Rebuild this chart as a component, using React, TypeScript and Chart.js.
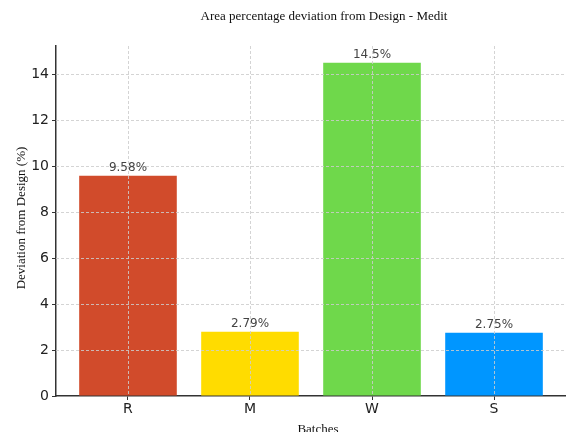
import React, { useEffect, useRef } from "react";
import { Chart, registerables } from "chart.js";

Chart.register(...registerables);

const batches = ["R", "M", "W", "S"];
const deviations = [9.58, 2.79, 14.5, 2.75];
const barColors = ["#D14B2B", "#FFDC00", "#6FD84B", "#0096FF"];
const yTicks = [0, 2, 4, 6, 8, 10, 12, 14];

const chartTitle = "Area percentage deviation from Design - Medit";
const xTitle = "Batches";
const yTitle = "Deviation from Design (%)";

// dashed grid drawn over the bars, plus value labels and axis titles
const overlayPlugin = {
  id: "overlay",
  afterDatasetsDraw(chart: any) {
    const { ctx, chartArea, scales } = chart;
    const xs = scales.x;
    const ys = scales.y;
    ctx.save();
    ctx.strokeStyle = "rgba(205,205,205,0.85)";
    ctx.lineWidth = 1;
    ctx.setLineDash([3, 2]);
    yTicks.forEach((v) => {
      if (v === 0) return;
      const y = Math.round(ys.getPixelForValue(v)) + 0.5;
      ctx.beginPath();
      ctx.moveTo(chartArea.left, y);
      ctx.lineTo(chartArea.right, y);
      ctx.stroke();
    });
    batches.forEach((_, i) => {
      const x = Math.round(xs.getPixelForValue(i)) + 0.5;
      ctx.beginPath();
      ctx.moveTo(x, chartArea.top);
      ctx.lineTo(x, chartArea.bottom);
      ctx.stroke();
    });
    ctx.setLineDash([]);

    // value labels above each bar
    const meta = chart.getDatasetMeta(0);
    ctx.fillStyle = "#444";
    ctx.font = '12px "DejaVu Sans"';
    ctx.textAlign = "center";
    ctx.textBaseline = "bottom";
    meta.data.forEach((bar: any, i: number) => {
      ctx.fillText(deviations[i] + "%", bar.x, bar.y - 2);
    });
    ctx.restore();
  },
  afterDraw(chart: any) {
    const { ctx } = chart;
    ctx.save();
    ctx.fillStyle = "#111";
    ctx.font = '13px "Liberation Serif"';
    ctx.textAlign = "center";
    ctx.textBaseline = "middle";
    ctx.fillText(chartTitle, 324, 17);
    ctx.fillText(xTitle, 318, 430);
    ctx.translate(22, 218);
    ctx.rotate(-Math.PI / 2);
    ctx.fillText(yTitle, 0, 0);
    ctx.restore();
  },
};

export default function App() {
  const canvasRef = useRef<HTMLCanvasElement | null>(null);

  useEffect(() => {
    if (!canvasRef.current) return;
    const chart = new Chart(canvasRef.current, {
      type: "bar",
      data: {
        datasets: [
          {
            data: deviations.map((v, i) => ({ x: i, y: v })),
            backgroundColor: barColors,
            borderWidth: 0,
            barPercentage: 0.8,
            categoryPercentage: 1,
          },
        ],
      },
      options: {
        animation: false,
        responsive: false,
        maintainAspectRatio: false,
        layout: { padding: { top: 46, left: 0, right: 0, bottom: 0 } },
        plugins: {
          legend: { display: false },
          tooltip: { enabled: false },
          title: { display: false },
        },
        scales: {
          x: {
            type: "linear",
            min: -0.59,
            max: 3.59,
            offset: false,
            afterFit: (s: any) => {
              s.height = 36;
            },
            border: { display: true, color: "#333", width: 1.5 },
            grid: {
              offset: false,
              drawOnChartArea: false,
              drawTicks: true,
              tickLength: 4,
              tickColor: "#333",
            },
            ticks: {
              stepSize: 1,
              includeBounds: false,
              autoSkip: false,
              maxRotation: 0,
              padding: 1,
              color: "#222",
              font: { family: "DejaVu Sans", size: 14 },
              callback: (v: any) => batches[v] ?? "",
            },
          },
          y: {
            min: 0,
            max: 15.225,
            afterFit: (s: any) => {
              s.width = 56;
            },
            border: { display: true, color: "#333", width: 1.5 },
            grid: {
              drawOnChartArea: false,
              drawTicks: true,
              tickLength: 4,
              tickColor: "#333",
            },
            ticks: {
              stepSize: 2,
              includeBounds: false,
              padding: 3,
              color: "#222",
              font: { family: "DejaVu Sans", size: 14 },
            },
          },
        },
      },
      plugins: [overlayPlugin],
    } as any);
    return () => chart.destroy();
  }, []);

  return (
    <div style={{ position: "absolute", left: 0, top: 0, width: 566, height: 432, background: "#fff" }}>
      <canvas ref={canvasRef} width={566} height={432} style={{ width: 566, height: 432 }} />
    </div>
  );
}
